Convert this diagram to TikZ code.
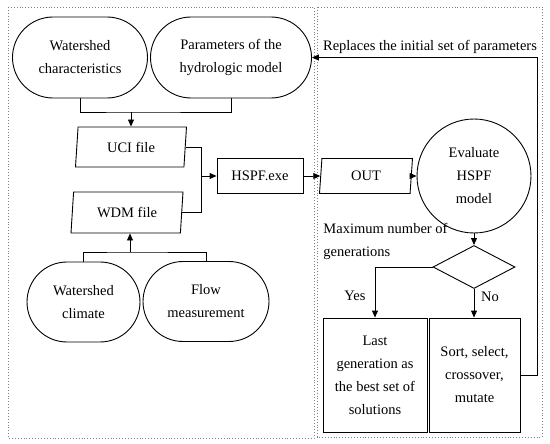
\documentclass[tikz,border=0pt]{standalone}
\usepackage{fontspec}
\setmainfont{Liberation Serif}
\usetikzlibrary{shapes.geometric,shapes.misc,arrows.meta}

\begin{document}
\begin{tikzpicture}[
  x=1pt, y=-1pt,
  every node/.style={
    draw,
    line width=0.9pt,
    font=\fontsize{14.5}{23}\selectfont,
    align=center,
    inner sep=0pt
  },
  pill/.style={rounded rectangle, minimum height=81pt},
  file/.style={trapezium, trapezium left angle=76, trapezium right angle=104,
    trapezium stretches body, minimum height=40pt},
  box/.style={rectangle},
  txt/.style={draw=none},
  conn/.style={line width=0.9pt},
  arr/.style={line width=0.9pt, -{Triangle[length=7pt,width=6pt]}},
  frame/.style={dotted, gray, line width=0.9pt}
]
  \useasboundingbox (0,0) rectangle (550,444);

  % dotted frames
  \draw[frame] (8,7) rectangle (314,438);
  \draw[frame] (317,7) rectangle (542,437);

  \node[pill, minimum width=135pt] (WC) at (80,57.5) {Watershed\\characteristics};
  \node[pill, minimum width=161pt] (PH) at (231,57.5) {Parameters of the\\hydrologic model};
  \node[file, minimum width=111pt] (UCI) at (131,147) {UCI file};
  \node[file, minimum width=112pt, minimum height=41pt] (WDM) at (127,212.5) {WDM file};
  \node[box, minimum width=86pt, minimum height=35pt] (HSPF) at (260,176) {HSPF.exe};
  \node[file, minimum width=93pt, minimum height=35pt] (OUT) at (366,176) {OUT};
  \node[circle, minimum size=114pt] (EV) at (474,176) {Evaluate\\HSPF\\model};
  \node[diamond, minimum width=82pt, minimum height=43pt] (MAX) at (474,267) {};
  \node[box, minimum width=104pt, minimum height=114pt] (LAST) at (375,375) {Last\\generation as\\the best set of\\solutions};
  \node[box, minimum width=91pt, minimum height=114pt] (SORT) at (474.5,375) {Sort, select,\\crossover,\\mutate};
  \node[pill, minimum width=113pt, minimum height=80pt] (CLI) at (83.5,302) {Watershed\\climate};
  \node[pill, minimum width=126pt, minimum height=80pt] (FLOW) at (206,301.5) {Flow\\measurement};

  \node[txt, anchor=west, align=left] (maxlbl) at (323,241) {Maximum number of\\generations};
  \node[txt] (yes) at (355,296) {Yes};
  \node[txt] (no) at (490,297) {No};
  \node[txt] (repl) at (430,47) {Replaces the initial set of parameters};

  \coordinate (j1) at (131,112);
  \coordinate (j2) at (130,252);
  \coordinate (j3) at (201,176);
  \coordinate (j4) at (537,375);

  \draw[conn] (WC.south) |- (j1) -| (PH.south);
  \draw[arr] (j1) -- (j1 |- UCI.north);
  \draw[conn] (CLI.north) |- (j2) -| (FLOW.north);
  \draw[arr] (j2) -- (j2 |- WDM.south);
  \draw[conn] (UCI.east) -| (j3);
  \draw[conn] (WDM.east) -| (j3);
  \draw[arr] (j3) -- (HSPF.west);
  \draw[arr] (HSPF) -- (OUT);
  \draw[arr] (OUT) -- (EV);
  \draw[arr] (EV) -- (MAX);
  \draw[arr] (MAX.west) -| (LAST.north);
  \draw[arr] (MAX.south) -- (MAX.south |- SORT.north);
  \draw[arr] (SORT.east) -- (j4) |- (PH.east);
\end{tikzpicture}
\end{document}
